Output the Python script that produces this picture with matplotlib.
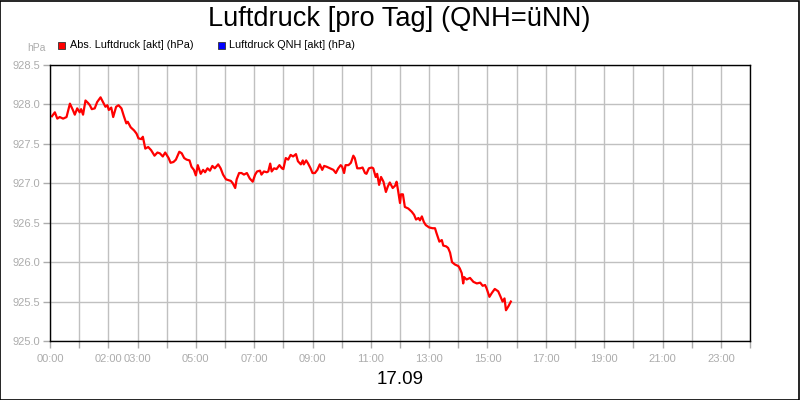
import matplotlib
matplotlib.use("Agg")
import matplotlib.pyplot as plt
from matplotlib.patches import Rectangle

plt.rcParams['font.family'] = ['Liberation Sans', 'DejaVu Sans']

# minutes after midnight
minutes = [4, 10, 15, 20, 27, 34, 41, 47, 51, 56, 61, 64, 68, 73, 78, 82, 86, 92, 97, 104,
           109, 114, 118, 121, 126, 130, 136, 141, 147, 152, 157, 160, 166, 173, 178, 182, 188, 191, 196, 202,
           208, 215, 221, 226, 232, 237, 244, 248, 254, 259, 266, 271, 276, 281, 287, 291, 296, 300, 304, 310,
           315, 319, 324, 329, 334, 339, 346, 351, 356, 362, 367, 372, 376, 381, 384, 389, 394, 399, 405, 411,
           417, 422, 426, 432, 435, 440, 446, 449, 453, 456, 461, 466, 472, 477, 480, 485, 490, 495, 500, 506,
           510, 516, 520, 522, 527, 531, 536, 540, 545, 550, 555, 560, 564, 569, 576, 583, 588, 593, 598, 601,
           605, 608, 614, 619, 624, 627, 632, 638, 643, 648, 651, 656, 662, 665, 670, 673, 677, 681, 686, 691,
           695, 699, 705, 710, 713, 716, 720, 722, 726, 730, 737, 744, 749, 753, 758, 761, 765, 769, 773, 780,
           787, 792, 795, 801, 806, 809, 815, 819, 823, 827, 833, 840, 843, 847, 850, 852, 857, 864, 871, 878,
           885, 890, 895, 898, 904, 909, 915, 922, 927, 931, 935, 938, 943, 948]

abs_pressure = [927.85, 927.90, 927.82, 927.84, 927.82, 927.84, 928.01, 927.93, 927.87, 927.95,
                927.90, 927.94, 927.87, 928.05, 928.02, 927.99, 927.94, 927.95, 928.03, 928.09,
                928.03, 927.97, 927.99, 927.93, 927.96, 927.84, 927.97, 927.99, 927.95, 927.85,
                927.76, 927.78, 927.71, 927.67, 927.63, 927.57, 927.56, 927.59, 927.44, 927.46,
                927.42, 927.35, 927.39, 927.38, 927.34, 927.39, 927.32, 927.26, 927.27, 927.30,
                927.40, 927.38, 927.32, 927.30, 927.29, 927.21, 927.17, 927.10, 927.23, 927.12,
                927.17, 927.14, 927.19, 927.16, 927.22, 927.19, 927.24, 927.19, 927.11, 927.05,
                927.04, 927.03, 927.00, 926.94, 927.05, 927.13, 927.13, 927.11, 927.13, 927.06,
                927.02, 927.11, 927.15, 927.16, 927.11, 927.15, 927.14, 927.15, 927.25, 927.15,
                927.19, 927.18, 927.23, 927.19, 927.18, 927.32, 927.30, 927.36, 927.34, 927.37,
                927.28, 927.24, 927.29, 927.24, 927.29, 927.25, 927.19, 927.13, 927.13, 927.17,
                927.24, 927.17, 927.22, 927.21, 927.19, 927.17, 927.13, 927.19, 927.23, 927.21,
                927.13, 927.23, 927.23, 927.26, 927.35, 927.32, 927.19, 927.19, 927.20, 927.13,
                927.12, 927.19, 927.20, 927.19, 927.08, 927.12, 926.98, 927.08, 927.02, 926.89,
                926.96, 927.01, 926.94, 926.97, 927.02, 926.91, 926.75, 926.86, 926.86, 926.70,
                926.68, 926.64, 926.60, 926.54, 926.56, 926.53, 926.58, 926.51, 926.47, 926.44,
                926.43, 926.43, 926.37, 926.26, 926.28, 926.21, 926.20, 926.18, 926.12, 926.00,
                925.97, 925.95, 925.92, 925.86, 925.73, 925.81, 925.78, 925.80, 925.75, 925.73,
                925.74, 925.70, 925.71, 925.67, 925.56, 925.61, 925.66, 925.63, 925.56, 925.50,
                925.54, 925.39, 925.44, 925.50]

hours = [m / 60.0 for m in minutes]

x_label_hours = [0, 2, 3, 5, 7, 9, 11, 13, 15, 17, 19, 21, 23]
y_ticks = [925.0, 925.5, 926.0, 926.5, 927.0, 927.5, 928.0, 928.5]

title = "Luftdruck [pro Tag] (QNH=üNN)"
date_label = "17.09"
legend_labels = ["Abs. Luftdruck [akt] (hPa)", "Luftdruck QNH [akt] (hPa)"]
legend_colors = ["#ff0000", "#0000ff"]

grey = "#acacac"
grid_grey = "#c0c0c0"

fig = plt.figure(figsize=(8, 4), dpi=100)
fig.patch.set_facecolor("white")
ax = fig.add_axes([50/800, 1 - 341/400, 700/800, 276/400])

ax.plot(hours, abs_pressure, color=legend_colors[0], linewidth=1.6, zorder=3)

ax.set_xlim(0, 24)
ax.set_ylim(925.0, 928.5)

all_hours = list(range(0, 25))
ax.set_xticks(all_hours)
ax.set_xticklabels([f"{h:02d}:00" if h in x_label_hours else "" for h in all_hours])
ax.set_yticks(y_ticks)
ax.set_yticklabels([f"{v:.1f}" for v in y_ticks])

ax.grid(True, color=grid_grey, linewidth=1.0, zorder=0)
ax.set_axisbelow(True)
ax.tick_params(axis='both', colors=grey, labelsize=8, length=5, width=1,
               labelcolor=grey)
ax.tick_params(axis='x', pad=4)
ax.tick_params(axis='y', pad=2)
for s in ax.spines.values():
    s.set_color("black")
    s.set_linewidth(1.0)
    s.set_zorder(4)

# texts
fig.text(399/800, 1 - 18.5/400, title, ha='center', va='center', fontsize=19.6, color='black')
fig.text(400/800, 1 - 380/400, date_label, ha='center', va='center', fontsize=13.5, color='black')
fig.text(46/800, 1 - 48/400, "hPa", ha='right', va='center', fontsize=7.5, color=grey)

# legend
sq = 7
for xs, xt, col, lab in [(58, 70, legend_colors[0], legend_labels[0]),
                         (218, 229, legend_colors[1], legend_labels[1])]:
    fig.add_artist(Rectangle((xs/800, 1 - 48.5/400), sq/800, sq/400,
                             transform=fig.transFigure, facecolor=col,
                             edgecolor='#333333', linewidth=0.6))
    fig.text(xt/800, 1 - 45/400, lab, ha='left', va='center', fontsize=7.8, color='black')

# outer border
fig.add_artist(Rectangle((0.0005, 0.001), 0.998, 0.997, transform=fig.transFigure,
                         fill=False, edgecolor='black', linewidth=1.2))

fig.savefig("out.png", dpi=100)
